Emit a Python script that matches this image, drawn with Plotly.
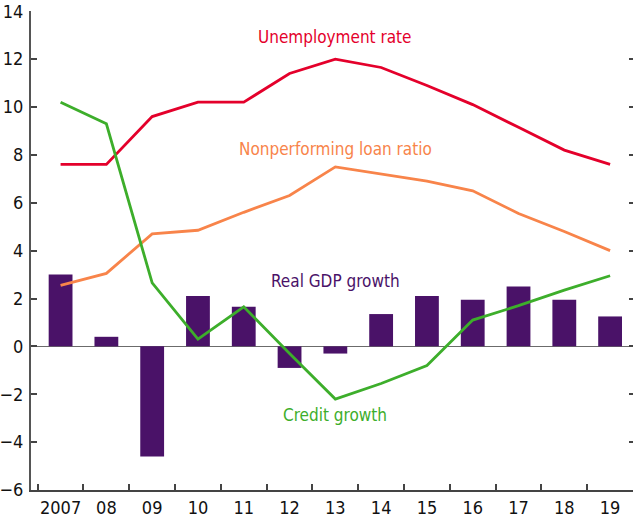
import plotly.graph_objects as go

years = ["2007", "08", "09", "10", "11", "12", "13", "14", "15", "16", "17", "18", "19"]
gdp_growth = [3.0, 0.4, -4.6, 2.1, 1.65, -0.9, -0.3, 1.35, 2.1, 1.95, 2.5, 1.95, 1.25]
unemployment = [7.6, 7.6, 9.6, 10.2, 10.2, 11.4, 12.0, 11.65, 10.9, 10.1, 9.15, 8.2, 7.6]
npl_ratio = [2.55, 3.05, 4.7, 4.85, 5.6, 6.3, 7.5, 7.2, 6.9, 6.5, 5.55, 4.8, 4.0]
credit_growth = [10.2, 9.3, 2.65, 0.3, 1.65, -0.3, -2.2, -1.55, -0.8, 1.1, 1.7, 2.35, 2.95]
y_ticks = [-6, -4, -2, 0, 2, 4, 6, 8, 10, 12, 14]

FONT = "DejaVu Sans Condensed, Liberation Sans Narrow, sans-serif"
PURPLE = "#4A1268"
RED = "#E4002B"
ORANGE = "#F8844A"
GREEN = "#3DAE2B"

fig = go.Figure()

fig.add_trace(go.Bar(x=years, y=gdp_growth, marker_color=PURPLE, marker_line_width=0))
fig.add_trace(go.Scatter(x=years, y=unemployment, mode="lines", line=dict(color=RED, width=2.8)))
fig.add_trace(go.Scatter(x=years, y=npl_ratio, mode="lines", line=dict(color=ORANGE, width=2.8)))
fig.add_trace(go.Scatter(x=years, y=credit_growth, mode="lines", line=dict(color=GREEN, width=2.8)))

# invisible trace to carry right-hand tick marks
fig.add_trace(go.Scatter(x=years, y=credit_growth, yaxis="y2", mode="lines",
                         line=dict(width=0), hoverinfo="skip", opacity=0))

labels = [
    ("Unemployment rate", 12.92, RED),
    ("Nonperforming loan ratio", 8.25, ORANGE),
    ("Real GDP growth", 2.75, PURPLE),
    ("Credit growth", -2.87, GREEN),
]
for text, yv, col in labels:
    fig.add_annotation(x=6, y=yv, text=text, showarrow=False,
                       font=dict(family=FONT, size=17, color=col),
                       xanchor="center", yanchor="middle")

fig.update_layout(
    width=636, height=522,
    margin=dict(l=31, r=3, t=11, b=32, autoexpand=False),
    paper_bgcolor="white", plot_bgcolor="white",
    showlegend=False,
    bargap=0.48,
    font=dict(family=FONT, size=18, color="#111111"),
    xaxis=dict(
        type="category", range=[-0.646, 12.5],
        tickson="boundaries", ticks="inside", ticklen=6, tickwidth=1.5,
        tickcolor="#444444", tickangle=0, automargin=False,
        ticklabeloverflow="allow",
        showline=True, linecolor="#444444", linewidth=2,
        showgrid=False, zeroline=False,
        tickfont=dict(family=FONT, size=18),
    ),
    yaxis=dict(
        range=[-6, 14.01], tickvals=y_ticks, automargin=False,
        ticktext=[("\u2212" + str(abs(v))) if v < 0 else str(v) for v in y_ticks],
        ticks="inside", ticklen=6, tickwidth=1.5, tickcolor="#444444",
        ticklabeloverflow="allow",
        showline=True, linecolor="#555555", linewidth=2,
        showgrid=False, zeroline=True, zerolinecolor="#6b6b6b", zerolinewidth=1,
        tickfont=dict(family=FONT, size=18),
        ticklabelstandoff=2,
    ),
    yaxis2=dict(
        range=[-6, 14.01], tickvals=y_ticks, overlaying="y", side="right",
        ticks="inside", ticklen=4, tickwidth=1.5, tickcolor="#444444",
        showticklabels=False, showline=False, showgrid=False, zeroline=False,
    ),
)

# drop the default 8px body margin so the figure sits at the page corner
fig.write_html("out.html", config={"displayModeBar": False},
               post_script="document.body.style.margin = '0';")
